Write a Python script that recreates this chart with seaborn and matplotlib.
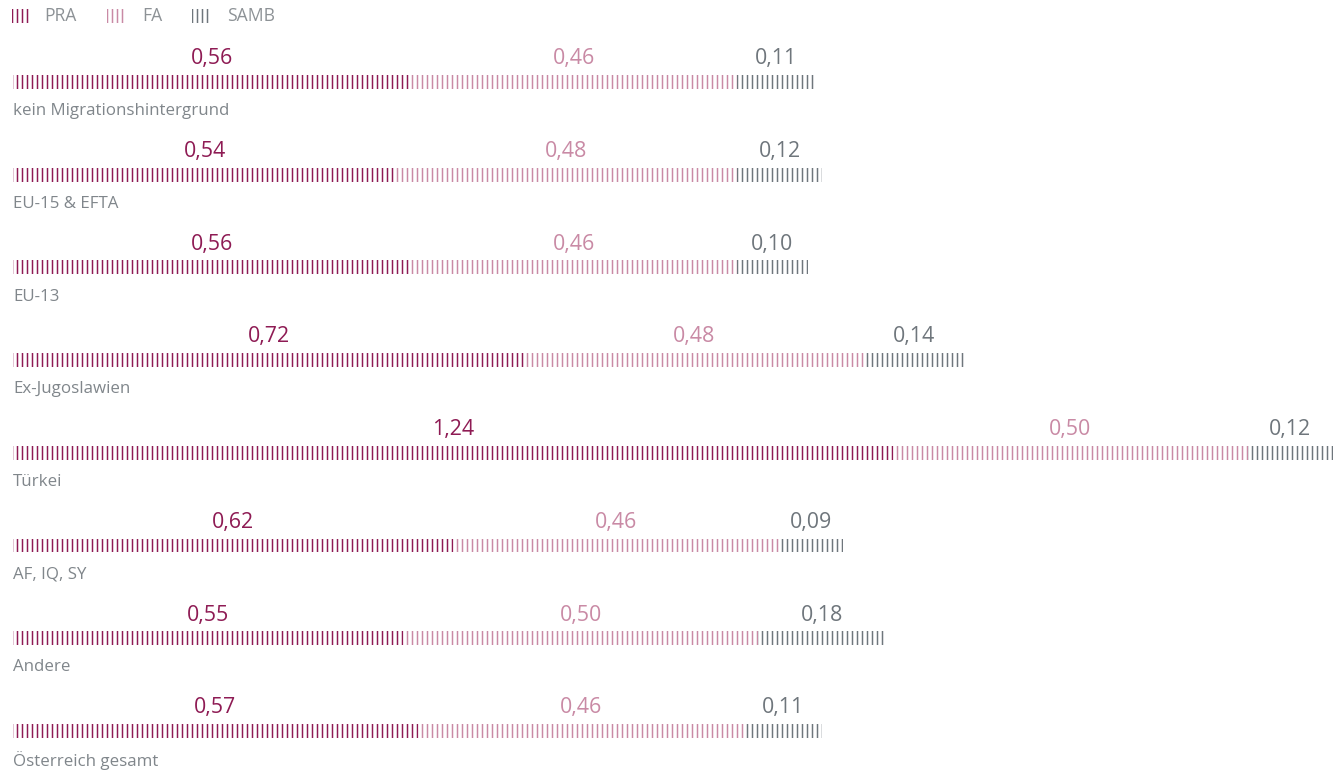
import pandas as pd
import matplotlib.pyplot as plt
import seaborn as sns
from matplotlib.patches import Rectangle

# --- Data ---
categories = ['kein Migrationshintergrund', 'EU-15 & EFTA', 'EU-13', 'Ex-Jugoslawien',
              'Türkei', 'AF, IQ, SY', 'Andere', 'Österreich gesamt']
pra = [0.56, 0.54, 0.56, 0.72, 1.24, 0.62, 0.55, 0.57]
fa = [0.46, 0.48, 0.46, 0.48, 0.50, 0.46, 0.50, 0.46]
samb = [0.11, 0.12, 0.10, 0.14, 0.12, 0.09, 0.18, 0.11]
series = ['PRA', 'FA', 'SAMB']

# --- Style ---
PRA_COL = '#8e1b54'
FA_COL = '#c98aa5'
SAMB_COL = '#6f767c'
LABEL_COL = '#80868b'
HATCH = '||||'

sns.set_style('white')
plt.rcParams['font.family'] = ['Open Sans', 'DejaVu Sans']
plt.rcParams['hatch.linewidth'] = 0.9

df = pd.DataFrame({'cat': categories, 'PRA': pra, 'FA': fa, 'SAMB': samb})
df['s1'] = df['PRA']
df['s2'] = df['PRA'] + df['FA']
df['s3'] = df['s2'] + df['SAMB']

fig = plt.figure(figsize=(1333 / 120, 771 / 120), dpi=120)
ax = fig.add_axes([0, 0, 1, 1])

bar_w = 0.15
# cumulative bars drawn back to front, each one hatched on white
for col, color in [('s3', SAMB_COL), ('s2', FA_COL), ('s1', PRA_COL)]:
    sns.barplot(data=df, x=col, y='cat', color=color, width=bar_w, ax=ax, orient='h')
    for p in ax.containers[-1]:
        p.set_facecolor('white')
        p.set_edgecolor(color)
        p.set_hatch(HATCH)
        p.set_linewidth(0)

# pixel layout: x=0 at 13px, 1.86 at 1333px; rows every ~92.7px starting at 82px
px_per_unit = 1320 / 1.86
ax.set_xlim(-13 / px_per_unit, 1320 / px_per_unit)
ax.set_ylim((771 - 82) / 92.7, -82 / 92.7)
ax.axis('off')

# value labels centered above each segment
for i, row in df.iterrows():
    starts = [0, row['s1'], row['s2']]
    vals = [row['PRA'], row['FA'], row['SAMB']]
    for s, v, c in zip(starts, vals, [PRA_COL, FA_COL, SAMB_COL]):
        ax.text(s + v / 2, i - 0.25, f'{v:.2f}'.replace('.', ','), color=c,
                fontsize=12.8, ha='center', va='center')
    ax.text(0, i + 0.315, row['cat'], color=LABEL_COL, fontsize=10.1,
            ha='left', va='center')

# legend at the top
leg_y = (16 - 82) / 92.7
icon_h = 14 / 92.7
for name, color, x_icon, x_txt in [('PRA', PRA_COL, 12, 44), ('FA', FA_COL, 107, 142),
                                    ('SAMB', SAMB_COL, 192, 227)]:
    ax.add_patch(Rectangle(((x_icon - 13) / px_per_unit, leg_y - icon_h / 2),
                           19 / px_per_unit, icon_h, facecolor='white',
                           edgecolor=color, hatch=HATCH, linewidth=0))
    ax.text((x_txt - 13) / px_per_unit, leg_y, name, color='#8d9296', fontsize=10.5,
            ha='left', va='center')

plt.savefig('out.png', dpi=120)
